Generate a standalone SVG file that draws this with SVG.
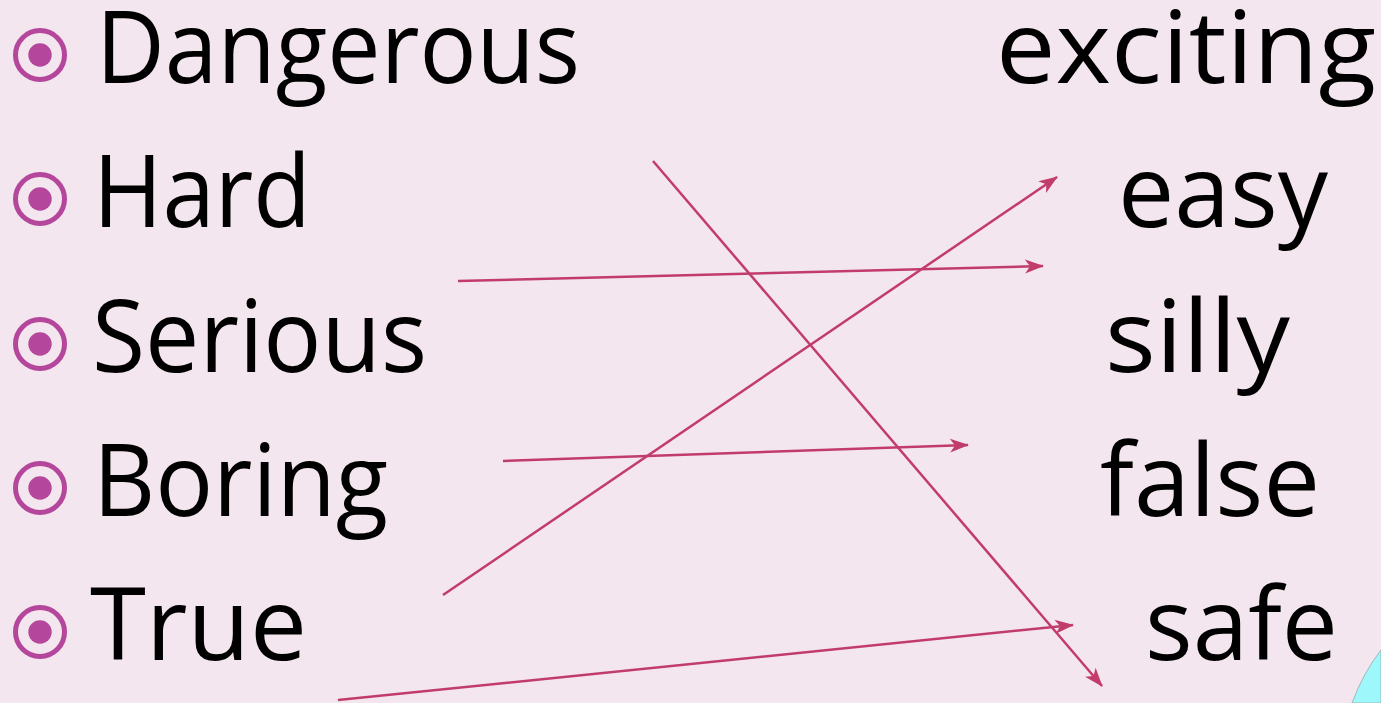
<svg xmlns="http://www.w3.org/2000/svg" width="1381" height="703" viewBox="0 0 1381 703">
<style>
.bg{fill:#F4E6EE}
.w{font-family:"Open Sans","DejaVu Sans",sans-serif;font-size:100px;fill:#000}
.ring{fill:none;stroke:#B4469C;stroke-width:5}
.dot{fill:#B4469C}
.con{stroke:#C23C6B;stroke-width:2.5;fill:none;marker-end:url(#ah)}
</style>
<defs>
<marker id="ah" markerUnits="userSpaceOnUse" markerWidth="20" markerHeight="16" viewBox="0 0 20 16" refX="18" refY="8" orient="auto">
<path d="M0,1 L19,8 L0,15 L5,8 Z" fill="#C23C6B"/>
</marker>
</defs>
<rect class="bg" x="0" y="0" width="1381" height="703"/>
<path d="M1352,703 Q1363,673 1381,650 L1381,703 Z" fill="#9EF8FB" stroke="#9AA" stroke-width="0.8"/>
<g id="left-dangerous"><circle class="ring" cx="40" cy="55" r="24.5"/><circle class="dot" cx="40" cy="55" r="11.7"/><text class="w" x="96" y="83" textLength="484" lengthAdjust="spacingAndGlyphs">Dangerous</text></g>
<g id="left-hard"><circle class="ring" cx="40" cy="199" r="24.5"/><circle class="dot" cx="40" cy="199" r="11.7"/><text class="w" x="93" y="227" textLength="218" lengthAdjust="spacingAndGlyphs">Hard</text></g>
<g id="left-serious"><circle class="ring" cx="40" cy="344" r="24.5"/><circle class="dot" cx="40" cy="344" r="11.7"/><text class="w" x="92" y="372" textLength="335" lengthAdjust="spacingAndGlyphs">Serious</text></g>
<g id="left-boring"><circle class="ring" cx="40" cy="488" r="24.5"/><circle class="dot" cx="40" cy="488" r="11.7"/><text class="w" x="93" y="516" textLength="295" lengthAdjust="spacingAndGlyphs">Boring</text></g>
<g id="left-true"><circle class="ring" cx="40" cy="632" r="24.5"/><circle class="dot" cx="40" cy="632" r="11.7"/><text class="w" x="90" y="660" textLength="217" lengthAdjust="spacingAndGlyphs">True</text></g>
<g id="right-exciting"><text class="w" x="996" y="83" textLength="380" lengthAdjust="spacingAndGlyphs">exciting</text></g>
<g id="right-easy"><text class="w" x="1118" y="227" textLength="210" lengthAdjust="spacingAndGlyphs">easy</text></g>
<g id="right-silly"><text class="w" x="1105" y="372" textLength="185" lengthAdjust="spacingAndGlyphs">silly</text></g>
<g id="right-false"><text class="w" x="1100" y="516" textLength="220" lengthAdjust="spacingAndGlyphs">false</text></g>
<g id="right-safe"><text class="w" x="1145" y="660" textLength="193" lengthAdjust="spacingAndGlyphs">safe</text></g>
<g id="connectors">
<line class="con" x1="653" y1="161" x2="1102" y2="686"/>
<line class="con" x1="458" y1="281" x2="1043" y2="266"/>
<line class="con" x1="443" y1="595" x2="1057" y2="177"/>
<line class="con" x1="503" y1="461" x2="968" y2="445"/>
<line class="con" x1="338" y1="700" x2="1073" y2="625"/>
</g>
</svg>
